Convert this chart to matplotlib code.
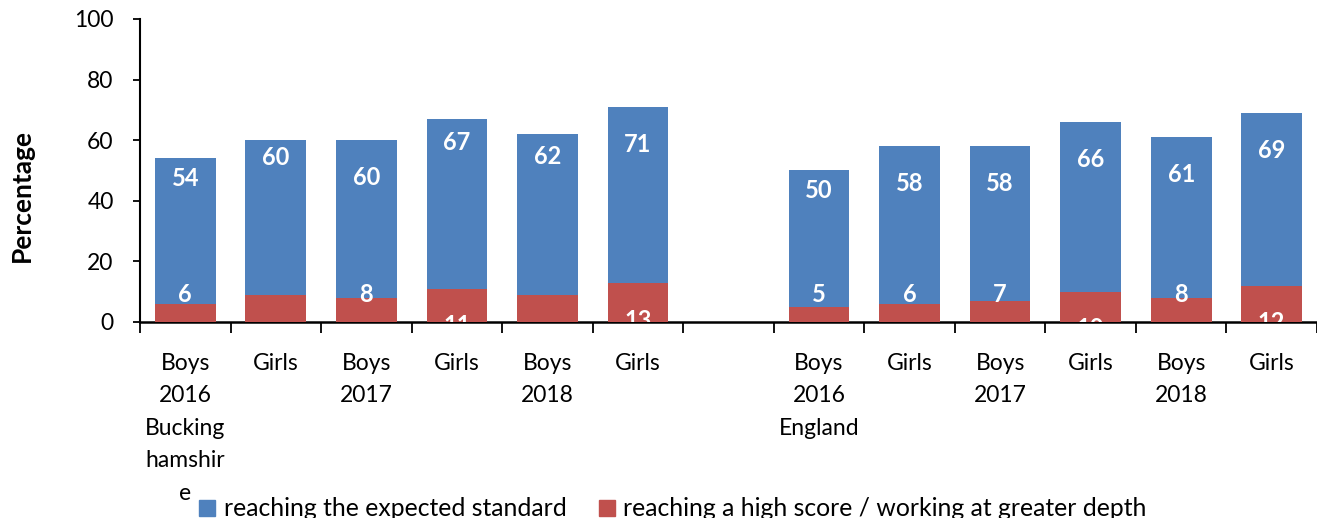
import numpy as np
import matplotlib
matplotlib.use("Agg")
import matplotlib.pyplot as plt
from matplotlib.patches import Patch

plt.rcParams["font.family"] = ["Lato", "DejaVu Sans"]

# Данные графика
categories = ["Boys\n2016\nBucking\nhamshir\ne", "Girls", "Boys\n2017", "Girls",
              "Boys\n2018", "Girls", "",
              "Boys\n2016\nEngland", "Girls", "Boys\n2017", "Girls",
              "Boys\n2018", "Girls"]
expected = [54, 60, 60, 67, 62, 71, np.nan, 50, 58, 58, 66, 61, 69]
high_score = [6, 9, 8, 11, 9, 13, np.nan, 5, 6, 7, 10, 8, 12]
series_names = ["reaching the expected standard",
                "reaching a high score / working at greater depth"]

# Расположение подписей (как в исходной диаграмме Excel)
blue_label_y = [47.3, 54.3, 47.7, 59.3, 54.6, 58.6, None, 43.4, 45.7, 45.7, 53.6, 48.7, 56.6]
red_label_y = [9.2, None, 9.2, -1.3, None, 0.6, None, 9.2, 9.2, 9.2, -2.0, 9.2, 0.0]

blue = "#4F81BD"
red = "#C0504D"

fig = plt.figure(figsize=(13.17, 5.18), dpi=100)
ax = fig.add_axes([140 / 1317, 1 - 322 / 518, 1177 / 1317, 303 / 518])

x = np.arange(len(categories))
ax.bar(x, expected, width=0.67, color=blue, zorder=2)
ax.bar(x, high_score, width=0.67, color=red, zorder=3)

for i in range(len(categories)):
    if blue_label_y[i] is not None:
        ax.text(x[i], blue_label_y[i], f"{expected[i]:.0f}", ha="center", va="center",
                color="white", fontsize=17, fontweight="bold", zorder=4)
    if red_label_y[i] is not None:
        ax.text(x[i], red_label_y[i], f"{high_score[i]:.0f}", ha="center", va="center",
                color="white", fontsize=17, fontweight="bold", zorder=4, clip_on=True)

ax.set_xlim(-0.5, len(categories) - 0.5)
ax.set_ylim(0, 100)
ax.set_yticks(range(0, 101, 20))
ax.tick_params(axis="y", labelsize=16.5, length=5, width=1.3, pad=14)

# Деления на границах категорий, подписи — по центру
ax.set_xticks(np.arange(-0.5, len(categories), 1.0))
ax.set_xticklabels([])
ax.tick_params(axis="x", which="major", length=8, width=1.3, direction="out")
ax.set_xticks(x, minor=True)
ax.set_xticklabels(categories, minor=True, fontsize=16.5, linespacing=1.68)
ax.tick_params(axis="x", which="minor", length=0, pad=22)

for side in ["top", "right"]:
    ax.spines[side].set_visible(False)
ax.spines["left"].set_linewidth(1.5)
ax.spines["bottom"].set_linewidth(1.8)

fig.text(22 / 1317, 1 - 196 / 518, "Percentage", rotation=90, ha="center", va="center",
         fontsize=19, fontweight="bold")

handles = [Patch(color=blue), Patch(color=red)]
fig.legend(handles, series_names, loc="center", bbox_to_anchor=(673 / 1317, 9 / 518),
           ncol=2, frameon=False, fontsize=17.8, handlelength=0.65, handleheight=0.65,
           handletextpad=0.35, columnspacing=1.3)

fig.savefig("out.png", dpi=100)
